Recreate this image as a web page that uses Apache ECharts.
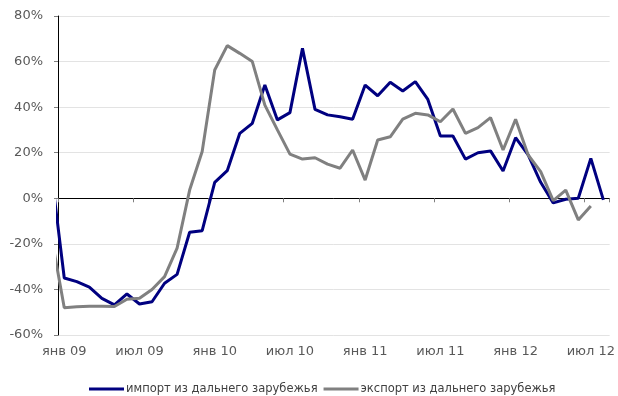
<!DOCTYPE html>
<html>
<head>
<meta charset="utf-8">
<script src="https://cdn.jsdelivr.net/npm/echarts@6/dist/echarts.min.js"></script>
<style>
  html, body { margin: 0; padding: 0; background: #fff; }
  #chart { width: 618px; height: 396px; }
</style>
</head>
<body>
<div id="chart"></div>
<script>
// months jan 09 .. aug 12
const months = [
  'янв 09','фев 09','мар 09','апр 09','май 09','июн 09','июл 09','авг 09','сен 09','окт 09','ноя 09','дек 09',
  'янв 10','фев 10','мар 10','апр 10','май 10','июн 10','июл 10','авг 10','сен 10','окт 10','ноя 10','дек 10',
  'янв 11','фев 11','мар 11','апр 11','май 11','июн 11','июл 11','авг 11','сен 11','окт 11','ноя 11','дек 11',
  'янв 12','фев 12','мар 12','апр 12','май 12','июн 12','июл 12','авг 12'
];
// dec 08 value sits just left of the plot, the chart only shows its clipped segment
const importPrev = 10;
const importVals = [
  -35, -36.6, -39, -43.9, -46.8, -42, -46.4, -45.4, -37.3, -33.4, -14.9, -14.2,
  7, 12.1, 28.5, 32.9, 49.7, 34.4, 37.6, 65.8, 39, 36.6, 35.8, 34.7,
  49.7, 45, 50.9, 47.1, 51.2, 43.4, 27.3, 27.3, 17.2, 20, 20.8, 12,
  26.6, 19, 7, -2, -0.4, 0, 17.5, -0.7
];
const exportPrev = -17.5;
const exportVals = [
  -48, -47.6, -47.4, -47.4, -47.5, -44.3, -43.9, -40, -34.4, -21.9, 3.6, 20.5,
  56.3, 67, 63.6, 60, 40.9, 30, 19.4, 17.2, 17.8, 15, 13.2, 21.2,
  8, 25.6, 27, 34.7, 37.3, 36.6, 33.6, 39.2, 28.5, 31, 35.4, 21.2,
  34.7, 19, 11.7, -1, 3.6, -9.5, -3.4
];
const yTicks = [-60, -40, -20, 0, 20, 40, 60, 80];

const FONT = 'DejaVu Sans';
const toPts = (prev, vals) => [[-0.5, prev]].concat(vals.map((v, i) => [i + 0.5, v]));

const chart = echarts.init(document.getElementById('chart'));
chart.setOption({
  animation: false,
  grid: { left: 58, right: 7, top: 16, bottom: 61 },
  legend: {
    left: 84, top: 378, itemGap: 6, itemWidth: 35, itemHeight: 3,
    textStyle: { fontFamily: FONT, fontSize: 11.5, color: '#404040', padding: [0, 0, 0, -3] },
    data: [
      { name: 'импорт из дальнего зарубежья', icon: 'rect' },
      { name: 'экспорт из дальнего зарубежья', icon: 'rect' }
    ]
  },
  xAxis: [
    {
      type: 'category', data: months, boundaryGap: true, position: 'bottom',
      axisLine: { show: false, onZero: false }, axisTick: { show: false },
      axisLabel: { interval: 5, margin: 10, color: '#595959', fontFamily: FONT, fontSize: 13 },
      splitLine: { show: false }
    },
    {
      type: 'value', min: 0, max: months.length, interval: 6, position: 'top',
      axisLine: { onZero: true, lineStyle: { color: '#000', width: 1 } },
      axisTick: { inside: true, length: 4, lineStyle: { color: '#7f7f7f' } },
      axisLabel: { show: false },
      splitLine: { show: false }
    }
  ],
  yAxis: {
    type: 'value', min: yTicks[0], max: yTicks[yTicks.length - 1], interval: 20,
    axisLine: { show: true, onZero: false, lineStyle: { color: '#000', width: 1 } },
    axisTick: { show: true, length: 4, lineStyle: { color: '#7f7f7f' } },
    axisLabel: { formatter: '{value}%', margin: 15, color: '#595959', fontFamily: FONT, fontSize: 13 },
    splitLine: { lineStyle: { color: '#e3e3e3', width: 1 } }
  },
  series: [
    {
      name: 'импорт из дальнего зарубежья', type: 'line', xAxisIndex: 1,
      data: toPts(importPrev, importVals), showSymbol: false, clip: true,
      lineStyle: { color: '#000080', width: 3 }, itemStyle: { color: '#000080' }
    },
    {
      name: 'экспорт из дальнего зарубежья', type: 'line', xAxisIndex: 1,
      data: toPts(exportPrev, exportVals), showSymbol: false, clip: true,
      lineStyle: { color: '#808080', width: 3 }, itemStyle: { color: '#808080' }
    }
  ]
});
</script>
</body>
</html>
